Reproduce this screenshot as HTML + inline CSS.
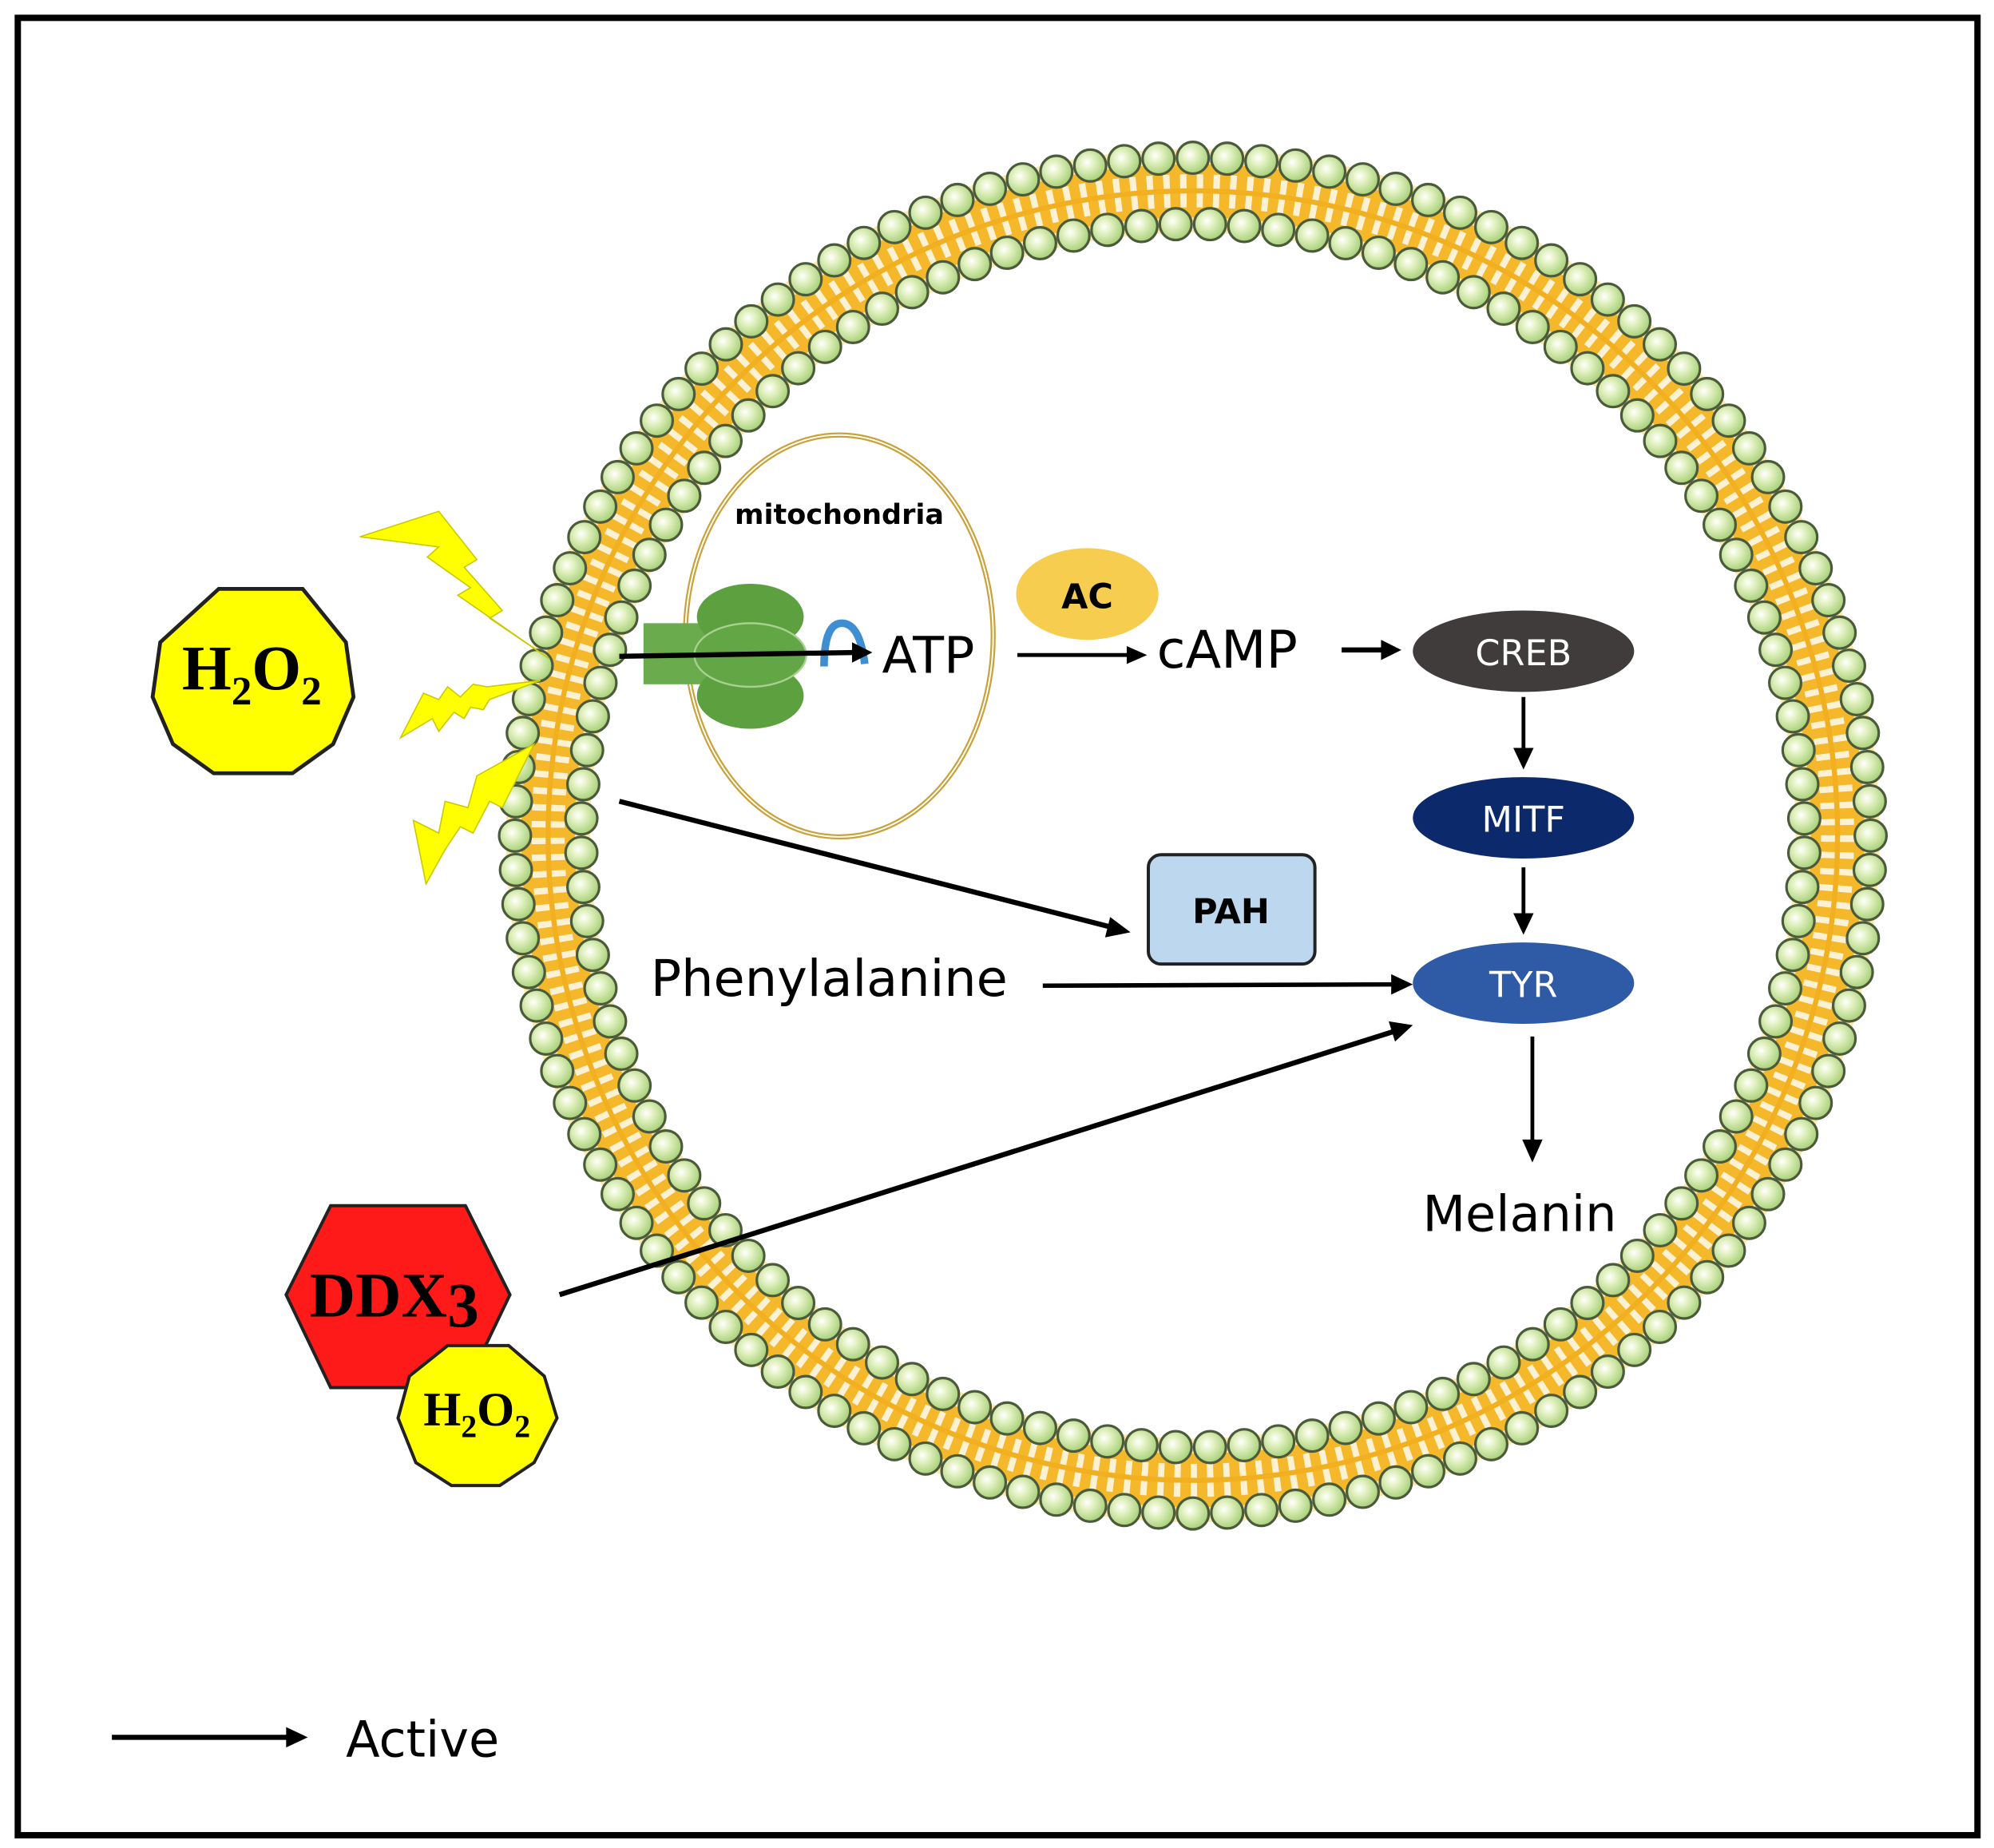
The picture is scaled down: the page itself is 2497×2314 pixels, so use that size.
<!DOCTYPE html>
<html><head><meta charset="utf-8">
<style>
html,body{margin:0;padding:0;background:#fff;}
svg{display:block;}
.sans{font-family:"DejaVu Sans","Liberation Sans",sans-serif;}
.serif{font-family:"Liberation Serif",serif;font-weight:bold;}
</style></head>
<body>
<svg id="s" width="2497" height="2314" viewBox="0 0 1568 1453" xmlns="http://www.w3.org/2000/svg">
<defs>
<radialGradient id="bead" cx="0.4" cy="0.4" r="0.6">
<stop offset="0" stop-color="#ffffff"/><stop offset="0.35" stop-color="#e4f2c4"/><stop offset="1" stop-color="#a9d17a"/>
</radialGradient>
</defs>
<rect x="14" y="14" width="1541" height="1429" fill="#fff" stroke="#000" stroke-width="5"/>
<!-- membrane band -->
<circle cx="938" cy="657" r="507" fill="none" stroke="#fbe08a" stroke-width="66" opacity="0.7"/>
<circle cx="938" cy="657" r="507" fill="none" stroke="#f4b82a" stroke-width="42"/>
<circle cx="938" cy="657" r="507" fill="none" stroke="#fff" stroke-width="26" stroke-dasharray="5 8" opacity="0.8"/>
<circle cx="938" cy="657" r="507" fill="none" stroke="#f2b020" stroke-width="4"/>
<g id="beads"></g>

<!-- mitochondria -->
<ellipse cx="660" cy="500" rx="121" ry="158" fill="none" stroke="#c9a23a" stroke-width="4"/>
<ellipse cx="660" cy="500" rx="121" ry="158" fill="none" stroke="#fff" stroke-width="1.2"/>
<text x="660" y="412" text-anchor="middle" class="sans" font-weight="bold" font-size="22">mitochondria</text>
<!-- ATP synthase -->
<rect x="506" y="490" width="60" height="48" fill="#6aab4e"/>
<ellipse cx="590" cy="485" rx="42" ry="26" fill="#5da040"/>
<ellipse cx="590" cy="547" rx="42" ry="26" fill="#5da040"/>
<ellipse cx="590" cy="515" rx="44" ry="25" fill="#62a645" stroke="#a8d08e" stroke-width="1.5"/>
<path d="M648 524 Q648 490 662 490 Q676 490 680 522" fill="none" stroke="#3d8fd1" stroke-width="6"/>
<text x="730" y="529" text-anchor="middle" class="sans" font-size="40">ATP</text>

<!-- AC -->
<ellipse cx="855" cy="467" rx="56" ry="36" fill="#f6cd4f"/>
<text x="855" y="478" text-anchor="middle" class="sans" font-weight="bold" font-size="27">AC</text>
<text x="965" y="525" text-anchor="middle" class="sans" font-size="41">cAMP</text>

<!-- CREB MITF TYR -->
<ellipse cx="1198" cy="512" rx="87" ry="32" fill="#3f3c3b"/>
<text x="1198" y="523" text-anchor="middle" class="sans" font-size="28" fill="#fff">CREB</text>
<ellipse cx="1198" cy="643" rx="87" ry="32" fill="#0c2a6b"/>
<text x="1198" y="654" text-anchor="middle" class="sans" font-size="28" fill="#fff">MITF</text>
<ellipse cx="1198" cy="773" rx="87" ry="32" fill="#2e5aa6"/>
<text x="1198" y="784" text-anchor="middle" class="sans" font-size="28" fill="#fff">TYR</text>

<!-- PAH -->
<rect x="903" y="672" width="131" height="86" rx="10" fill="#bdd7ee" stroke="#222" stroke-width="2.5"/>
<text x="968" y="726" text-anchor="middle" class="sans" font-weight="bold" font-size="27">PAH</text>

<text x="652" y="783" text-anchor="middle" class="sans" font-size="40">Phenylalanine</text>
<text x="1195" y="968" text-anchor="middle" class="sans" font-size="39">Melanin</text>

<!-- arrows -->
<g stroke="#000" stroke-width="4" fill="#000">
<line x1="487" y1="516" x2="672" y2="513"/><polygon points="686,513 670,505 670,521" stroke="none"/>
<line x1="800" y1="515" x2="888" y2="515" stroke-width="3"/><polygon points="902,515 886,508 886,522" stroke="none"/>
<line x1="1055" y1="511" x2="1088" y2="511"/><polygon points="1102,511 1086,503 1086,519" stroke="none"/>
<line x1="1198" y1="548" x2="1198" y2="590" stroke-width="3"/><polygon points="1198,605 1190,588 1206,588" stroke="none"/>
<line x1="1198" y1="682" x2="1198" y2="720" stroke-width="3"/><polygon points="1198,735 1190,718 1206,718" stroke="none"/>
<line x1="1205" y1="815" x2="1205" y2="898" stroke-width="3"/><polygon points="1205,914 1197,896 1213,896" stroke="none"/>
<line x1="487" y1="630" x2="874" y2="729"/><polygon points="889,733 873,721 869,737" stroke="none"/>
<line x1="820" y1="775" x2="1096" y2="774" stroke-width="3.5"/><polygon points="1111,774 1094,766 1094,782" stroke="none"/>
<line x1="440" y1="1018" x2="1096" y2="811"/><polygon points="1111,806 1092,803 1097,819" stroke="none"/>
<line x1="88" y1="1366" x2="226" y2="1366"/><polygon points="242,1366 225,1358 225,1374" stroke="none"/>
</g>
<text x="272" y="1381" class="sans" font-size="39">Active</text>

<!-- lightning -->
<g fill="#ffff00" stroke="#c9c900" stroke-width="1">
<polygon points="283,422 345,402 375,440 365,446 395,480 385,486 432,518 360,468 370,462 336,438 345,430"/>
<polygon points="315,580 333,545 345,550 352,540 362,548 372,538 383,540 425,535 385,550 380,558 370,556 365,565 357,560 345,575 340,565"/>
<polygon points="335,695 325,645 345,655 350,630 368,635 375,610 420,585 395,635 385,630 372,655 362,650 350,668"/>
</g>

<!-- H2O2 big -->
<polygon points="172,463 238,463 272,505 278,548 262,585 230,608 168,608 136,585 120,548 126,505" fill="#ffff00" stroke="#222" stroke-width="3"/>
<text x="198" y="542" text-anchor="middle" class="serif" font-size="50">H<tspan font-size="32" dy="12">2</tspan><tspan dy="-12">O</tspan><tspan font-size="32" dy="12">2</tspan></text>

<!-- DDX3 -->
<polygon points="260,948 366,948 401,1018 366,1091 260,1091 225,1018" fill="#ff1a1a" stroke="#222" stroke-width="2.5"/>
<text x="310" y="1035" text-anchor="middle" class="serif" font-size="50">DDX<tspan dy="8">3</tspan></text>
<!-- H2O2 small -->
<polygon points="352,1058 400,1058 428,1082 438,1115 420,1150 393,1168 355,1168 327,1150 313,1115 322,1082" fill="#ffff00" stroke="#222" stroke-width="2.5"/>
<text x="375" y="1121" text-anchor="middle" class="serif" font-size="38">H<tspan font-size="25" dy="9">2</tspan><tspan dy="-9">O</tspan><tspan font-size="25" dy="9">2</tspan></text>
</svg>
<script>
(function(){
var g=document.getElementById('beads'),ns='http://www.w3.org/2000/svg',cx=938,cy=657;
function ring(r,n,off){for(var i=0;i<n;i++){var a=(i+off)/n*2*Math.PI;var c=document.createElementNS(ns,'circle');
c.setAttribute('cx',(cx+r*Math.cos(a)).toFixed(1));c.setAttribute('cy',(cy+r*Math.sin(a)).toFixed(1));
c.setAttribute('r','12.5');c.setAttribute('fill','url(#bead)');c.setAttribute('stroke','#4a5a3a');c.setAttribute('stroke-width','2');g.appendChild(c);}}
ring(533,124,0);ring(481,112,0.5);
})();
</script>
</body></html>
